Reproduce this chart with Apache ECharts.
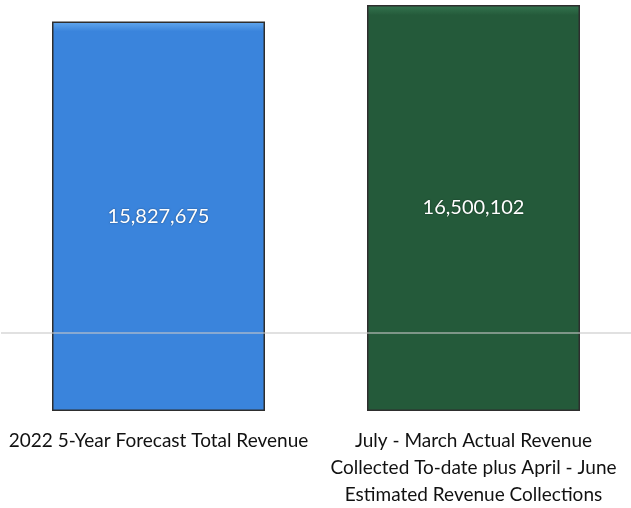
<!DOCTYPE html>
<html>
<head>
<meta charset="utf-8">
<script src="https://cdn.jsdelivr.net/npm/echarts@6/dist/echarts.min.js"></script>
<style>html,body{margin:0;padding:0;background:#fff}#c{width:631px;height:508px}</style>
</head>
<body>
<div id="c"></div>
<script>
const categories = [
  "2022 5-Year Forecast Total Revenue",
  "July - March Actual Revenue\nCollected To-date plus April - June\nEstimated Revenue Collections"
];
const revenueValues = [15827675, 16500102];
const gridLineValue = 3200000;

const barColors = [
  { top: '#63a9ef', base: '#3a84dc' },
  { top: '#347650', base: '#245a3a' }
];

function fmt(v){ return v.toLocaleString('en-US'); }

const chart = echarts.init(document.getElementById('c'), null, {renderer: 'canvas'});
chart.setOption({
  animation: false,
  grid: { left: 1, top: 5, width: 640, bottom: 92, containLabel: false },
  xAxis: {
    type: 'category',
    data: categories,
    axisLine: { show: false },
    axisTick: { show: false },
    axisLabel: {
      interval: 0,
      margin: 16,
      color: '#111111',
      fontFamily: 'Lato',
      fontSize: 19,
      lineHeight: 27,
      align: 'center'
    }
  },
  yAxis: {
    type: 'value',
    min: 0,
    max: function (v) { return v.max; },
    show: false,
    splitLine: { show: false }
  },
  series: [{
    type: 'bar',
    barWidth: 213,
    data: revenueValues.map((v, i) => ({
      value: v,
      itemStyle: {
        color: {
          type: 'linear', x: 0, y: 0, x2: 0, y2: 1,
          colorStops: [
            { offset: 0, color: barColors[i].top },
            { offset: 0.025, color: barColors[i].base },
            { offset: 1, color: barColors[i].base }
          ]
        }
      }
    })),
    itemStyle: { borderColor: '#2e2e2e', borderWidth: 1.5 },
    label: {
      show: true,
      position: 'inside',
      color: '#ffffff',
      fontFamily: 'Lato',
      fontSize: 20,
      textShadowColor: 'rgba(0,0,0,0.45)',
      textShadowBlur: 2,
      formatter: p => fmt(p.value)
    },
    markLine: {
      silent: true,
      symbol: 'none',
      label: { show: false },
      lineStyle: { color: 'rgba(200,200,200,0.55)', type: 'solid', width: 2 },
      data: [{ yAxis: gridLineValue }]
    }
  }]
});
</script>
</body>
</html>
